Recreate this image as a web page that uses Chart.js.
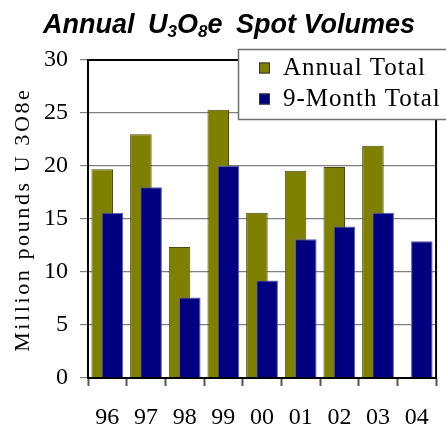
<!DOCTYPE html>
<html>
<head>
<meta charset="utf-8">
<script src="https://cdn.jsdelivr.net/npm/chart.js@4"></script>
<style>
    html, body { margin: 0; padding: 0; background: #ffffff; }
    #wrap { width: 446px; height: 427px; position: relative; }
</style>
</head>
<body>
<div id="wrap"><canvas id="spotChart"></canvas></div>
<script>
// Dane wykresu
const years = ['96', '97', '98', '99', '00', '01', '02', '03', '04'];
const annualTotal = [19.7, 23.0, 12.35, 25.3, 15.6, 19.55, 19.9, 21.9, null];
const nineMonthTotal = [15.6, 18.0, 7.6, 20.0, 9.2, 13.1, 14.3, 15.6, 12.9];
const yMin = 0;
const yMax = 30;
const yStep = 5;
const yTitle = 'Million pounds U 3O8e';

const SERIF = '"Liberation Serif", "Times New Roman", serif';
const SANS = '"Liberation Sans", Arial, sans-serif';

/**
 * Rysuje tekst znak po znaku z dodatkowym odstępem (wyśrodkowany)
 */
function drawSpaced(ctx, text, cx, cy, spacing) {
    const widths = Array.from(text).map(ch => ctx.measureText(ch).width);
    const total = widths.reduce((a, b) => a + b, 0) + spacing * (widths.length - 1);
    let x = cx - total / 2;
    Array.from(text).forEach((ch, i) => {
        ctx.fillText(ch, x, cy);
        x += widths[i] + spacing;
    });
}

/**
 * Tytuł z prawdziwymi indeksami dolnymi (U3O8e) i rozstrzelony tytuł osi Y
 */
const titlePlugin = {
    id: 'subTitle',
    afterDraw(chart) {
        const ctx = chart.ctx;
        const big = 'italic bold 27px ' + SANS;
        const small = 'italic bold 17px ' + SANS;
        const parts = [
            { t: 'Annual', sub: false },
            { gap: true },
            { t: 'U', sub: false },
            { t: '3', sub: true },
            { t: 'O', sub: false },
            { t: '8', sub: true },
            { t: 'e', sub: false },
            { gap: true },
            { t: 'Spot Volumes', sub: false },
        ];
        ctx.save();
        ctx.fillStyle = '#000000';
        ctx.textBaseline = 'alphabetic';
        ctx.textAlign = 'left';
        let used = 0;
        parts.forEach(p => {
            if (p.gap) return;
            ctx.font = p.sub ? small : big;
            p.w = ctx.measureText(p.t).width;
            used += p.w;
        });
        const gap = (372 - used) / 2;
        let x = 43;
        parts.forEach(p => {
            if (p.gap) { x += gap; return; }
            ctx.font = p.sub ? small : big;
            ctx.fillText(p.t, x, p.sub ? 37 : 33);
            x += p.w;
        });
        ctx.restore();

        // tytuł osi Y
        const area = chart.chartArea;
        ctx.save();
        ctx.translate(23, (area.top + area.bottom) / 2 + 2);
        ctx.rotate(-Math.PI / 2);
        ctx.font = '22px ' + SERIF;
        ctx.fillStyle = '#000000';
        ctx.textAlign = 'left';
        ctx.textBaseline = 'middle';
        drawSpaced(ctx, yTitle, 0, 0, 2.6);
        ctx.restore();
    }
};

/**
 * Niebieskie słupki rysowane na wierzchu oliwkowych
 */
const orderPlugin = {
    id: 'drawOrder',
    beforeDatasetDraw(chart, args) {
        if (args.index === 1 && !chart._drawingBlue) {
            return false;
        }
    },
    afterDatasetDraw(chart, args) {
        if (args.index === 0) {
            chart._drawingBlue = true;
            chart.getDatasetMeta(1).controller.draw();
            chart._drawingBlue = false;
        }
    }
};

/**
 * Ramka obszaru wykresu i legenda w ramce
 */
const framePlugin = {
    id: 'frameLegend',
    afterDatasetsDraw(chart) {
        const { ctx, chartArea } = chart;
        ctx.save();
        ctx.strokeStyle = '#000000';
        ctx.lineWidth = 2;
        ctx.strokeRect(chartArea.left, chartArea.top, chartArea.right - chartArea.left, chartArea.bottom - chartArea.top);
        ctx.restore();
    },
    afterDraw(chart) {
        const ctx = chart.ctx;
        ctx.save();
        ctx.fillStyle = '#ffffff';
        ctx.fillRect(238, 49, 220, 70);
        ctx.strokeStyle = '#6e6e6e';
        ctx.lineWidth = 1.5;
        ctx.strokeRect(238.5, 49.5, 220, 70);
        ctx.font = '25px ' + SERIF;
        ctx.letterSpacing = '1px';
        ctx.textBaseline = 'middle';
        const rows = [68, 99];
        chart.data.datasets.forEach((ds, i) => {
            const y = rows[i];
            ctx.fillStyle = ds.backgroundColor;
            ctx.fillRect(259, y - 5.5, 11, 11);
            ctx.strokeStyle = '#333333';
            ctx.lineWidth = 1;
            ctx.strokeRect(259.5, y - 5, 10, 10);
            ctx.fillStyle = '#000000';
            ctx.fillText(ds.label, 283, y);
        });
        ctx.restore();
    }
};

const ctx = document.getElementById('spotChart').getContext('2d');
const chart = new Chart(ctx, {
    type: 'bar',
    data: {
        labels: years,
        datasets: [
            {
                label: 'Annual Total',
                data: annualTotal,
                backgroundColor: '#808000',
                borderColor: '#4a4a10',
                borderWidth: 1,
                categoryPercentage: 0.53,
                barPercentage: 2.1,
            },
            {
                label: '9-Month Total',
                data: nineMonthTotal,
                backgroundColor: '#000080',
                borderColor: '#5a5aa8',
                borderWidth: 1,
                categoryPercentage: 0.53,
                barPercentage: 2.1,
            },
        ],
    },
    options: {
        responsive: true,
        maintainAspectRatio: false,
        animation: false,
        layout: {
            padding: { top: 60, right: 5, bottom: 0, left: 0 },
        },
        plugins: {
            legend: { display: false },
            title: { display: false },
            tooltip: { enabled: false },
        },
        scales: {
            x: {
                afterFit(scale) { scale.height = 49; },
                grid: {
                    offset: true,
                    drawOnChartArea: false,
                    drawTicks: true,
                    tickLength: 8,
                    tickWidth: 2,
                    tickColor: '#555555',
                },
                border: { color: '#000000', width: 2 },
                ticks: {
                    color: '#000000',
                    padding: 17,
                    font: { family: SERIF, size: 24 },
                },
            },
            y: {
                min: yMin,
                max: yMax,
                afterFit(scale) { scale.width = 88; },
                grid: {
                    color: '#808080',
                    lineWidth: 1.2,
                    tickLength: 8,
                    tickColor: '#808080',
                },
                border: { color: '#000000', width: 2 },
                ticks: {
                    stepSize: yStep,
                    color: '#000000',
                    padding: 12,
                    font: { family: SERIF, size: 24 },
                },
            },
        },
    },
    plugins: [titlePlugin, orderPlugin, framePlugin],
});
</script>
</body>
</html>
